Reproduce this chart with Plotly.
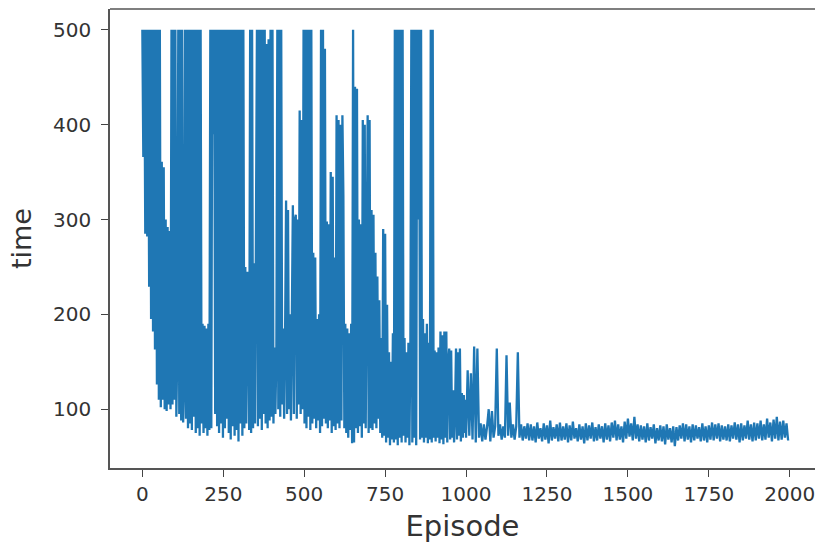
import plotly.graph_objects as go

# Episodes 0..999 sampled every 3 episodes (chaotic learning phase)
episodes_early = list(range(0, 1000, 3))
time_early = [
    500, 366, 500, 285, 500, 282, 500, 229, 500, 195,
    500, 182, 500, 163, 500, 126, 500, 110, 500, 102,
    361, 110, 355, 100, 300, 98, 292, 105, 288, 100,
    500, 105, 500, 110, 500, 92, 165, 500, 95, 500,
    88, 500, 86, 125, 500, 90, 500, 80, 500, 85,
    500, 78, 500, 92, 500, 75, 500, 80, 500, 72,
    500, 85, 190, 75, 188, 80, 185, 72, 190, 78,
    500, 80, 500, 390, 500, 95, 500, 82, 500, 75,
    500, 85, 500, 70, 500, 80, 500, 90, 500, 75,
    500, 68, 500, 82, 500, 72, 500, 78, 500, 66,
    500, 85, 500, 72, 500, 80, 250, 85, 245, 208,
    78, 500, 75, 500, 80, 254, 85, 250, 500, 82,
    500, 90, 500, 78, 500, 95, 500, 85, 485, 80,
    490, 88, 500, 92, 500, 85, 165, 95, 160, 500,
    100, 500, 92, 500, 105, 185, 90, 180, 320, 95,
    310, 100, 200, 88, 210, 315, 95, 300, 305, 90,
    300, 105, 415, 95, 405, 100, 500, 85, 500, 80,
    500, 92, 500, 78, 500, 85, 265, 90, 260, 80,
    195, 88, 200, 75, 500, 82, 500, 90, 480, 85,
    298, 80, 295, 88, 350, 75, 345, 82, 260, 78,
    410, 85, 405, 80, 400, 88, 410, 325, 80, 190,
    75, 185, 70, 180, 78, 190, 64, 500, 65, 440,
    80, 438, 75, 300, 82, 295, 70, 405, 85, 400,
    80, 290, 410, 75, 405, 80, 310, 78, 305, 85,
    265, 80, 240, 90, 215, 75, 175, 70, 290, 72,
    285, 65, 210, 70, 160, 62, 150, 68, 180, 65,
    500, 68, 500, 62, 500, 70, 500, 65, 500, 72,
    175, 65, 160, 70, 170, 62, 165, 500, 65, 500,
    70, 500, 62, 500, 300, 500, 68, 500, 70, 195,
    65, 180, 70, 190, 64, 170, 68, 500, 65, 500,
    70, 162, 66, 160, 70, 165, 64, 182, 68, 178,
    63, 182, 70, 182, 65, 150, 164, 68, 162, 70,
    120, 65, 100, 164, 68, 160, 72, 164, 66, 117,
    70, 115, 75, 110,
]

# Episodes 1000..1995 sampled every 5 episodes (converged phase)
episodes_late = list(range(1000, 2000, 5))
time_late = [
    70, 141, 72, 138, 68, 166, 65, 164, 70, 85,
    66, 84, 68, 82, 100, 66, 98, 70, 82, 164,
    72, 84, 68, 82, 70, 157, 72, 107, 70, 84,
    68, 82, 160, 70, 84, 67, 82, 69, 85, 67,
    84, 67, 82, 65, 86, 69, 80, 66, 85, 68, 83, 64, 88, 67, 81, 69, 84, 66, 86, 67,
    82, 68, 85, 65, 83, 67, 87, 69, 80, 66, 84, 68, 82, 64, 85, 67, 83, 69, 86, 66,
    81, 67, 84, 69, 82, 65, 85, 68, 83, 66, 86, 70, 88, 67, 84, 68, 82, 65, 87, 69,
    90, 71, 85, 67, 92, 69, 84, 66, 83, 68, 82, 65, 85, 67, 81, 69, 84, 64, 80, 67,
    83, 66, 82, 63, 84, 68, 80, 65, 82, 61, 81, 67, 83, 69, 85, 66, 84, 68, 82, 65,
    84, 67, 83, 69, 81, 66, 85, 67, 82, 65, 83, 68, 86, 67, 84, 69, 85, 66, 83, 68,
    82, 67, 84, 66, 83, 69, 86, 68, 84, 65, 85, 67, 83, 69, 88, 68, 84, 66, 86, 67,
    85, 69, 88, 67, 84, 68, 90, 70, 86, 66, 89, 69, 92, 67, 87, 68, 88, 70, 85, 67,
]

x_ticks = [0, 250, 500, 750, 1000, 1250, 1500, 1750, 2000]
y_ticks = [100, 200, 300, 400, 500]

fig = go.Figure(
    go.Scatter(
        x=episodes_early + episodes_late,
        y=time_early + time_late,
        mode="lines",
        line=dict(color="#1f77b4", width=2.3),
        showlegend=False,
    )
)

axis_common = dict(
    ticks="outside",
    ticklen=7,
    tickwidth=1.2,
    tickcolor="#444",
    showline=True,
    linecolor="#555",
    linewidth=1.5,
    showgrid=False,
    zeroline=False,
    tickfont=dict(size=20, color="#333"),
)

fig.update_layout(
    width=815,
    height=547,
    margin=dict(l=110, r=0, t=9, b=79),
    plot_bgcolor="white",
    paper_bgcolor="white",
    font=dict(family="DejaVu Sans", color="#333"),
    showlegend=False,
)
fig.update_xaxes(
    range=[-99.95, 2078],
    tickvals=x_ticks,
    ticklabeloverflow="allow",
    title=dict(text="Episode", font=dict(size=29, color="#333"), standoff=11),
    **axis_common,
)
fig.update_yaxes(
    range=[38, 522],
    tickvals=y_ticks,
    ticklabelstandoff=6,
    title=dict(text="time", font=dict(size=27, color="#333"), standoff=14),
    **axis_common,
)
fig.add_shape(
    type="line", xref="paper", yref="paper",
    x0=0, x1=1, y0=1, y1=1,
    line=dict(color="#555", width=1.5),
)

fig.write_html("out.html")
